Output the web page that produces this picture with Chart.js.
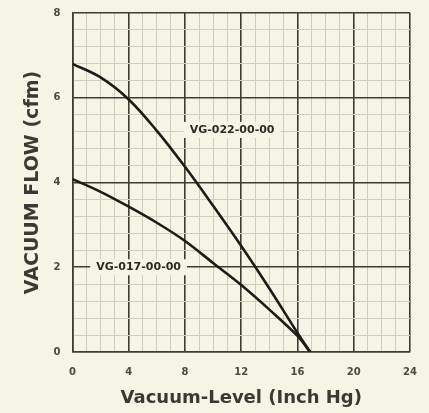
<!DOCTYPE html>
<html>
<head>
<meta charset="utf-8">
<script src="https://cdn.jsdelivr.net/npm/chart.js@4/dist/chart.umd.min.js"></script>
<style>
  html, body { margin: 0; padding: 0; background: #f6f4e4; }
  #wrap { width: 429px; height: 413px; }
</style>
</head>
<body>
<div id="wrap"><canvas id="myChart" width="429" height="413"></canvas></div>
<script>
// Vacuum-level (Inch Hg) / flow (cfm)
const vacuum022 = [0, 2, 4, 6, 8, 10, 12, 14, 16, 16.9];
const flow022   = [6.8, 6.48, 5.96, 5.22, 4.37, 3.45, 2.5, 1.5, 0.45, 0];
const vacuum017 = [0, 2, 4, 6, 8, 10, 12, 14, 16, 16.9];
const flow017   = [4.08, 3.78, 3.43, 3.05, 2.62, 2.1, 1.58, 1.0, 0.38, 0];

const seriesNames = ['VG-022-00-00', 'VG-017-00-00'];
// where each curve name sits (data units)
const labelX = [11.35, 4.7];
const labelY = [5.24, 2.0];

const xTitle = 'Vacuum-Level (Inch Hg)';
const yTitle = 'VACUUM FLOW (cfm)';

const BG = '#f6f4e4';
const MAJOR = '#3d3d34';
const MINOR = '#cdcebd';
const FONT = "'DejaVu Sans', sans-serif";

const isMajor = (v, step) => Math.abs(v / step - Math.round(v / step)) < 1e-6;

const toPoints = (xs, ys) => xs.map((x, i) => ({ x, y: ys[i] }));

// nhãn tên đường cong, có nền che lưới
const curveLabels = {
  id: 'curveLabels',
  beforeDatasetsDraw(chart) {
    const { ctx, scales: { x, y } } = chart;
    ctx.save();
    ctx.font = `bold 11px ${FONT}`;
    ctx.textAlign = 'center';
    ctx.textBaseline = 'middle';
    seriesNames.forEach((name, i) => {
      const px = x.getPixelForValue(labelX[i]);
      const py = y.getPixelForValue(labelY[i]);
      const w = ctx.measureText(name).width + 12;
      ctx.fillStyle = BG;
      ctx.fillRect(px - w / 2, py - 8, w, 16);
      ctx.fillStyle = '#2a2a24';
      ctx.fillText(name, px, py);
    });
    ctx.restore();
  }
};

const plotBg = {
  id: 'plotBg',
  beforeDraw(chart) {
    const { ctx } = chart;
    ctx.save();
    ctx.fillStyle = BG;
    ctx.fillRect(0, 0, chart.width, chart.height);
    ctx.restore();
  }
};

const ctx = document.getElementById('myChart').getContext('2d');
new Chart(ctx, {
  type: 'line',
  data: {
    datasets: [
      { label: seriesNames[0], data: toPoints(vacuum022, flow022) },
      { label: seriesNames[1], data: toPoints(vacuum017, flow017) }
    ]
  },
  options: {
    responsive: false,
    animation: false,
    events: [],
    layout: { padding: { left: 0, right: 19, top: 13, bottom: 0 } },
    elements: {
      line: { borderColor: '#1c1c18', borderWidth: 2.6, tension: 0.35, cubicInterpolationMode: 'default' },
      point: { radius: 0 }
    },
    plugins: { legend: { display: false }, tooltip: { enabled: false } },
    scales: {
      x: {
        type: 'linear',
        min: 0, max: 24,
        afterFit: s => { s.height = 61; s.paddingLeft = 0; s.paddingRight = 0; },
        border: { display: true, color: MAJOR, width: 1.6 },
        grid: {
          drawTicks: false,
          color: c => isMajor(c.tick.value, 4) ? MAJOR : MINOR,
          lineWidth: c => isMajor(c.tick.value, 4) ? 1.6 : 1
        },
        ticks: {
          stepSize: 1, autoSkip: false, maxRotation: 0, padding: 14,
          color: '#4a4a42',
          font: { family: FONT, size: 10, weight: 'bold' },
          callback: v => isMajor(v, 4) ? String(Math.round(v)) : ''
        },
        title: {
          display: true, text: xTitle, color: '#3a3a34',
          font: { family: FONT, size: 18, weight: 'bold', lineHeight: 1.2 },
          padding: { top: 0, bottom: 4 }
        }
      },
      y: {
        min: 0, max: 8,
        afterFit: s => { s.width = 72.5; s.paddingTop = 0; s.paddingBottom = 0; },
        border: { display: true, color: MAJOR, width: 1.6 },
        grid: {
          drawTicks: false,
          color: c => isMajor(c.tick.value, 2) ? MAJOR : MINOR,
          lineWidth: c => isMajor(c.tick.value, 2) ? 1.6 : 1
        },
        ticks: {
          stepSize: 0.4, autoSkip: false, padding: 12,
          color: '#4a4a42',
          font: { family: FONT, size: 10, weight: 'bold' },
          callback: v => isMajor(v, 2) ? String(Math.round(v)) : ''
        },
        title: {
          display: true, text: yTitle, color: '#3a3a34',
          font: { family: FONT, size: 19, weight: 'bold', lineHeight: 1.2 },
          padding: { top: 22, bottom: 0 }
        }
      }
    }
  },
  plugins: [plotBg, curveLabels]
});
</script>
</body>
</html>
